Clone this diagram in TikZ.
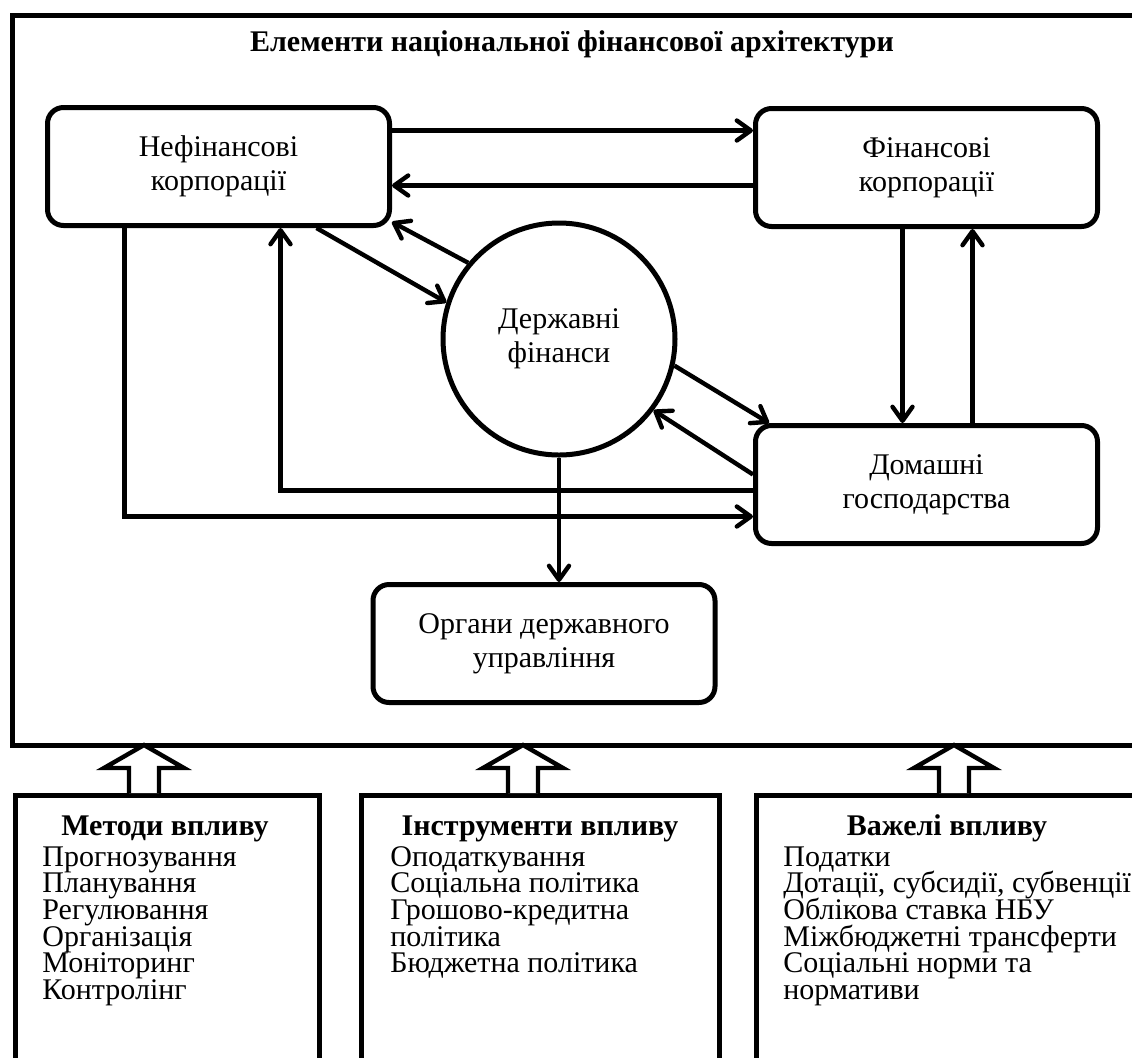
\documentclass[tikz,border=0pt]{standalone}
\usepackage{fontspec}
\setmainfont{Liberation Serif}
\usetikzlibrary{arrows.meta}

\tikzset{
  unit/.style={draw, line width=2.5pt, rounded corners=8pt, minimum width=171pt, minimum height=59pt, align=center, font=\fontsize{15}{17}\selectfont},
  arr/.style={line width=2.2pt, -{Straight Barb[length=7pt,width=10pt,round]}},
  panel/.style={draw, line width=2.5pt, anchor=north west, minimum height=160pt},
  head/.style={font=\bfseries\fontsize{15}{16}\selectfont, anchor=base},
  item/.style={font=\fontsize{15}{16}\selectfont, anchor=base west, inner sep=0pt},
  bigarr/.style={draw, line width=2.2pt, fill=white},
}

\begin{document}
\begin{tikzpicture}[x=0.5pt, y=-0.5pt]
    \useasboundingbox (0,0) rectangle (1132,1057);
    \clip (0,0) rectangle (1132,1057);

    % Outer frame
    \draw[line width=2.5pt] (12,15) rectangle (1180,745);
    \node[head] (title) at (572,51) {Елементи національної фінансової архітектури};

    % Sectors
    \node[unit] (nfk) at (218.5,166.5) {Нефінансові\\корпорації};
    \node[unit] (fk) at (926.5,167.5) {Фінансові\\корпорації};
    \node[unit] (dh) at (926.5,484.5) {Домашні\\господарства};
    \node[unit] (odu) at (544,643.5) {Органи державного\\управління};
    \node[draw, circle, line width=2.5pt, minimum size=116pt, inner sep=0pt, align=center,
          font=\fontsize{15}{17}\selectfont] (df) at (559,339) {Державні\\фінанси};

    % Flows
    \coordinate (a1) at ([yshift=18pt]nfk.east);
    \draw[arr] (a1) -- (a1 -| fk.west);
    \coordinate (a2) at ([yshift=-9pt]fk.west);
    \draw[arr] (a2) -- (a2 -| nfk.east);

    \coordinate (b1) at ([xshift=-12pt]fk.south);
    \draw[arr] (b1) -- (b1 |- dh.north);
    \coordinate (b2) at ([xshift=23pt]dh.north);
    \draw[arr] (b2) -- (b2 |- fk.south);

    \draw[arr] ([xshift=49pt]nfk.south) -- (df.162);
    \draw[arr] (df.140) -- ([yshift=3pt]nfk.south east);

    \draw[arr] (df.-13) -- ([xshift=8pt]dh.north west);
    \draw[arr] ([yshift=5pt]dh.west) -- (df.-37);

    \draw[arr] (df.south) -- (df.south |- odu.north);

    \draw[arr] ([xshift=-47pt]nfk.south) |- ([yshift=-16pt]dh.west);
    \draw[arr] ([yshift=-3pt]dh.west) -| ([xshift=31pt]nfk.south);

    % Bottom panels
    \node[panel, minimum width=152pt] (methods) at (13,793) {};
    \node[panel, minimum width=179pt] (tools) at (359,793) {};
    \node[panel, minimum width=195pt] (levers) at (754,793) {};

    \foreach \cx in {144, 523, 954}
        \draw[bigarr] (\cx-15,793) -- (\cx-15,768) -- (\cx-40,768) -- (\cx,745)
            -- (\cx+40,768) -- (\cx+15,768) -- (\cx+15,793);

    \node[head] (mhead) at (165,835) {Методи впливу};
    \node[head] (thead) at (540,835) {Інструменти впливу};
    \node[head] (lhead) at (947,835) {Важелі впливу};

    \foreach \t [count=\n from 0] in {Прогнозування, Планування, Регулювання, Організація, Моніторинг, Контролінг}
        \node[item] (m\n) at (42,{866+26.7*\n}) {\t};
    \foreach \t [count=\n from 0] in {Оподаткування, Соціальна політика, Грошово-кредитна, політика, Бюджетна політика}
        \node[item] (t\n) at (390,{866+26.7*\n}) {\t};
    \foreach \t [count=\n from 0] in {Податки, {Дотації, субсидії, субвенції}, Облікова ставка НБУ, Міжбюджетні трансферти, Соціальні норми та, нормативи}
        \node[item] (l\n) at (783,{866+26.7*\n}) {\t};

\end{tikzpicture}
\end{document}
